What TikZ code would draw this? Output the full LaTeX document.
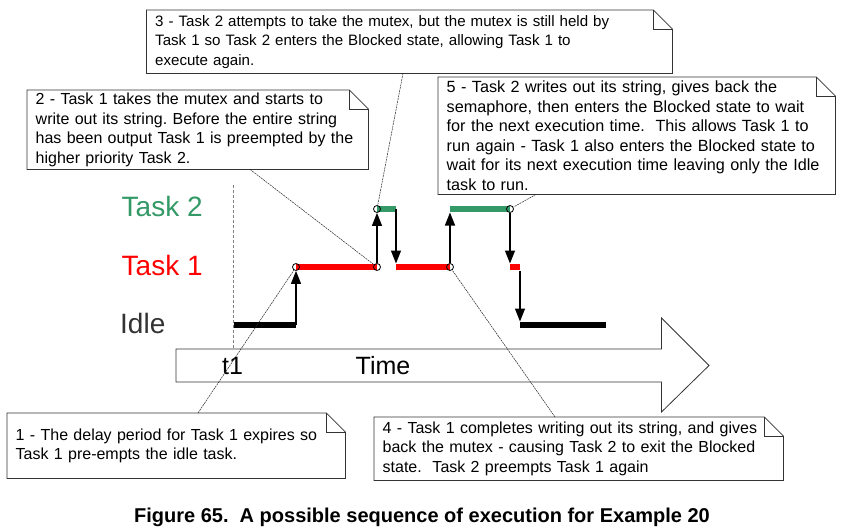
\documentclass[tikz,border=0pt]{standalone}
\usepackage{fontspec}
\setmainfont{Liberation Sans}
\frenchspacing
\usetikzlibrary{arrows.meta}
\usetikzlibrary{positioning}
\definecolor{taskgreen}{RGB}{51,153,102}
\definecolor{idlegray}{RGB}{51,51,51}
\tikzset{
	>={Triangle[length=13pt,width=10pt]},
	notebox/.style={
		rectangle,
		anchor=north west,
		inner xsep=8.5pt,
		inner ysep=0pt,
		align=left,
		notesize=16},
	notesize/.style={font=\fontsize{#1}{19.5}\selectfont},
	noteline/.style={draw=black!80, line width=0.8pt},
	callout/.style={draw=black!85, line width=0.5pt, dash pattern=on 2pt off 0.8pt},
	bar/.style={line width=6.5pt},
	switch/.style={->, line width=1.4pt},
	event/.style={circle, draw, line width=0.8pt, inner sep=0pt, minimum size=7pt},
	level/.style={anchor=base west, inner sep=0pt, font=\fontsize{28}{28}\selectfont},
	axis/.style={anchor=base, inner sep=0pt, font=\fontsize{25}{25}\selectfont},
}
\newcommand{\foldnote}[1]{%
	\draw[noteline] (#1.south west) -- (#1.north west) -- ([xshift=-19pt]#1.north east)
		-- ([yshift=-19pt]#1.north east) -- (#1.south east) -- cycle;
	\draw[noteline] ([xshift=-19pt]#1.north east) |- ([yshift=-19pt]#1.north east);}

\begin{document}
\begin{tikzpicture}[x=1pt, y=-1pt]
	\useasboundingbox (0,0) rectangle (847,528);
	
	% time arrow
	\draw[noteline, fill=white] (176,349) -- (661.5,349) -- (661.5,318) -- (709,365.5)
		-- (661.5,412) -- (661.5,382) -- (176,382) -- cycle;
	\node[axis] (tone) at (232.5,374.5) {t1};
	\node[axis] (time) at (383,374.5) {Time};
	\draw[densely dashed, gray, line width=0.6pt] (233.5,185) -- (233.5,349);
	
	% levels
	\node[level, text=taskgreen] (lbltwo) at (121.5,216.7) {Task 2};
	\node[level, text=red] (lblone) at (121.5,275) {Task 1};
	\node[level, text=idlegray] (lblidle) at (120,333.3) {Idle};
	
	% points where tasks switch
	\coordinate (p1) at (296,267);
	\coordinate (p2) at (377,267);
	\coordinate (p3) at (377,209);
	\coordinate (p4) at (450,267);
	\coordinate (p5) at (510,209);
	\coordinate (i1) at (234,325);
	\coordinate (i2) at (296,325);
	\coordinate (g1) at (396,209);
	\coordinate (r1) at (396,267);
	\coordinate (g2) at (450,209);
	\coordinate (r2) at (510,267);
	\coordinate (r3) at (520,267);
	\coordinate (i3) at (520,325);
	\coordinate (i4) at (606,325);
	
	\draw[bar] (i1) -- (i2);
	\draw[bar, red] (p1) -- (p2);
	\draw[bar, taskgreen] (p3) -- (g1);
	\draw[bar, red] (r1) -- (p4);
	\draw[bar, taskgreen] (g2) -- (p5);
	\draw[bar, red] (r2) -- (r3);
	\draw[bar] (i3) -- (i4);
	
	\node[event] (e1) at (p1) {};
	\node[event] (e2) at (p2) {};
	\node[event] (e3) at (p3) {};
	\node[event] (e4) at (p4) {};
	\node[event] (e5) at (p5) {};
	
	\draw[switch] (i2) -- (e1.south);
	\draw[switch] (e2.north) -- (e3.south);
	\draw[switch] (g1) -- ([yshift=3.5pt]r1);
	\draw[switch] (e4.north) -- ([yshift=-3.5pt]g2);
	\draw[switch] (e5.south) -- ([yshift=3.5pt]r2);
	\draw[switch] ([yshift=-3.5pt]r3) -- ([yshift=3.5pt]i3);
	
	% notes
	\node[notebox, notesize=15.1, minimum width=525.5pt, minimum height=63pt, text width=508.5pt] (note3) at (146.5,10)
		{3 - Task 2 attempts to take the mutex, but the mutex is still held by\\
		Task 1 so Task 2 enters the Blocked state, allowing Task 1 to\\
		execute again.};
	\node[notebox, minimum width=341pt, minimum height=79pt, text width=324pt] (note2) at (27,90)
		{2 - Task 1 takes the mutex and starts to\\
		write out its string. Before the entire string\\
		has been output Task 1 is preempted by the\\
		higher priority Task 2.};
	\node[notebox, notesize=16.2, minimum width=397pt, minimum height=117pt, text width=380pt] (note5) at (438,77)
		{5 - Task 2 writes out its string, gives back the\\
		semaphore, then enters the Blocked state to wait\\
		for the next execution time.~ This allows Task 1 to\\
		run again - Task 1 also enters the Blocked state to\\
		wait for its next execution time leaving only the Idle\\
		task to run.};
	\node[notebox, minimum width=338pt, minimum height=65pt, text width=321pt] (note1) at (7,413)
		{1 - The delay period for Task 1 expires so\\
		Task 1 pre-empts the idle task.};
	\node[notebox, minimum width=409pt, minimum height=63pt, text width=392pt] (note4) at (374,417)
		{4 - Task 1 completes writing out its string, and gives\\
		back the mutex - causing Task 2 to exit the Blocked\\
		state.~ Task 2 preempts Task 1 again};
	\foldnote{note1}
	\foldnote{note2}
	\foldnote{note3}
	\foldnote{note4}
	\foldnote{note5}
	
	\draw[callout] ([xshift=191pt]note1.north west) -- (e1);
	\draw[callout] ([xshift=223pt]note2.south west) -- (e2);
	\draw[callout] ([xshift=256.5pt]note3.south west) -- (e3);
	\draw[callout] ([xshift=181pt]note4.north west) -- (e4);
	\draw[callout] ([xshift=98pt]note5.south west) -- (e5);
	
	\node[anchor=base, inner sep=0pt, font=\fontsize{20}{20}\selectfont\bfseries] (caption) at (422,522)
		{Figure 65.~ A possible sequence of execution for Example 20};
\end{tikzpicture}
\end{document}
